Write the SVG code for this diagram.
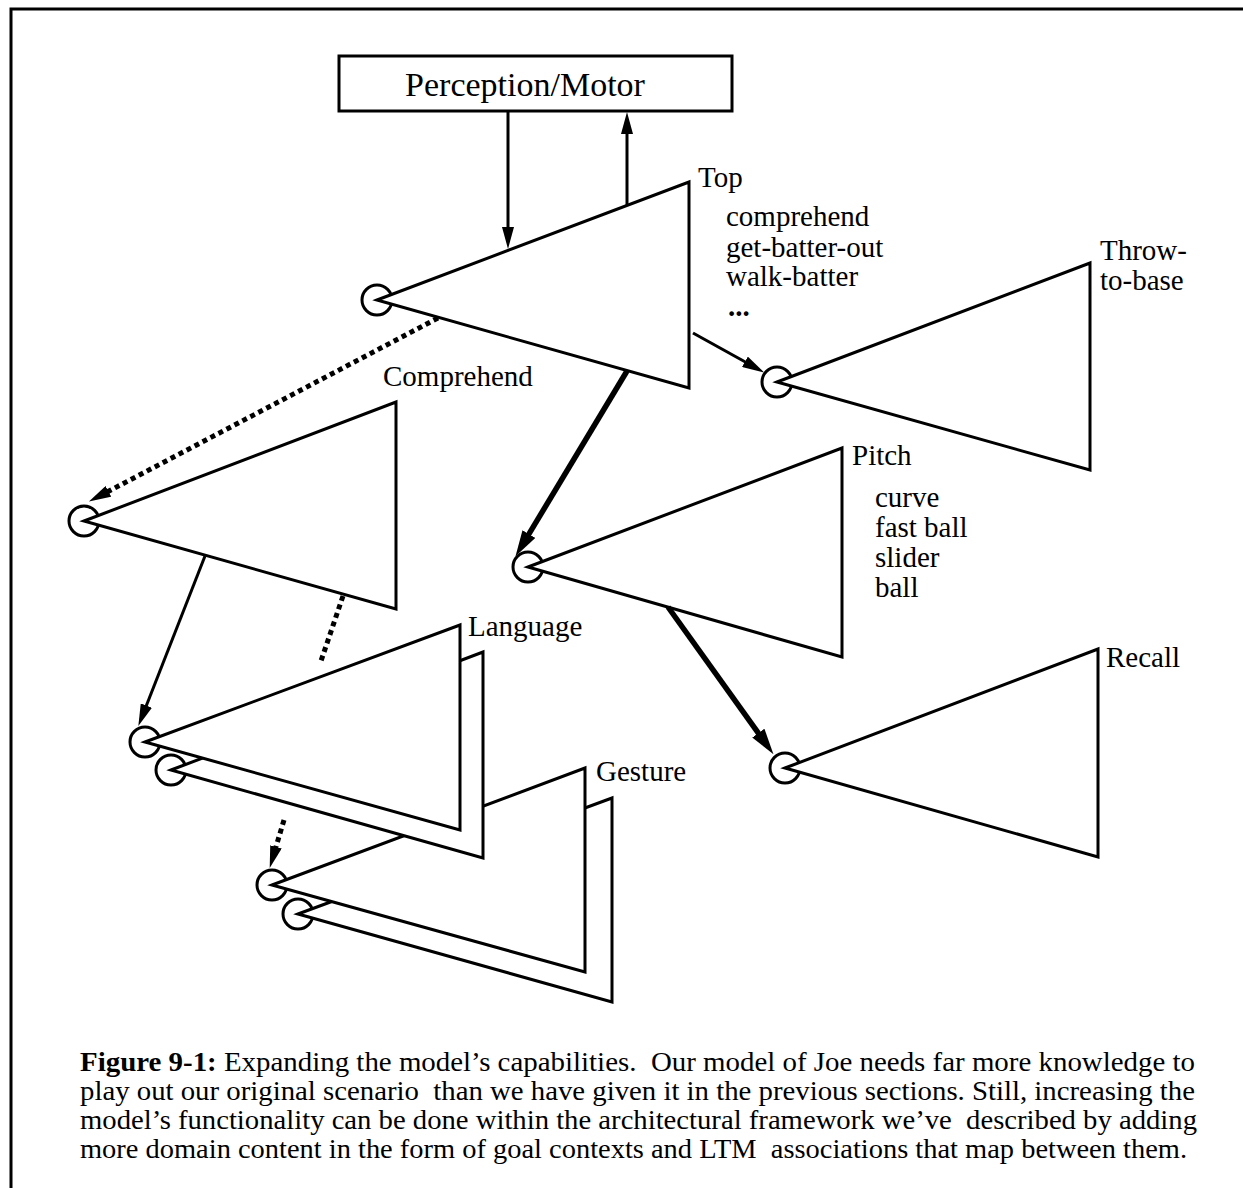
<svg xmlns="http://www.w3.org/2000/svg" width="1243" height="1188" viewBox="0 0 1243 1188">
  <style>
    .frame { fill: none; stroke: #000; stroke-width: 3; }
    .ctx { fill: #fff; stroke: #000; stroke-width: 3; stroke-linejoin: miter; }
    .port { fill: #fff; stroke: #000; stroke-width: 3; }
    .box { fill: #fff; stroke: #000; stroke-width: 3; }
    .thin { fill: none; stroke: #000; stroke-width: 3; }
    .thick { fill: none; stroke: #000; stroke-width: 5.5; }
    .dots { fill: none; stroke: #000; stroke-width: 5; stroke-dasharray: 5 4; }
    text { font-family: "Liberation Serif", "Times New Roman", serif; fill: #000; }
    .lbl { font-size: 29px; }
    .title { font-size: 34px; }
    .cap { font-size: 28px; white-space: pre; }
  </style>
  <defs>
    <marker id="ah" markerUnits="userSpaceOnUse" viewBox="0 0 22 12" markerWidth="22" markerHeight="12" refX="1" refY="6" orient="auto">
      <path d="M0,0 L22,6 L0,12 z" fill="#000"/>
    </marker>
    <marker id="ahBig" markerUnits="userSpaceOnUse" viewBox="0 0 26 15" markerWidth="26" markerHeight="15" refX="1" refY="7.5" orient="auto">
      <path d="M0,0 L26,7.5 L0,15 z" fill="#000"/>
    </marker>
  </defs>

  <!-- page frame -->
  <path class="frame" d="M11,1188 L11,9 L1243,9"/>

  <g id="perception-motor">
    <rect class="box" x="339" y="56" width="393" height="55"/>
    <text class="title" x="525" y="96" text-anchor="middle">Perception/Motor</text>
  </g>

  <g id="gesture">
    <circle class="port" cx="298" cy="914" r="15"/>
    <polygon class="ctx" points="298,914 612,798 612,1002"/>
    <circle class="port" cx="272" cy="885" r="15"/>
    <polygon class="ctx" points="272,885 585,768 585,972"/>
    <text class="lbl" x="596" y="781">Gesture</text>
  </g>

  <g id="language">
    <circle class="port" cx="171" cy="770" r="15"/>
    <polygon class="ctx" points="171,770 483,652 483,858"/>
    <circle class="port" cx="145" cy="742" r="15"/>
    <polygon class="ctx" points="145,742 460,625 460,830"/>
    <text class="lbl" x="468" y="636">Language</text>
  </g>

  <g id="comprehend">
    <circle class="port" cx="84" cy="521" r="15"/>
    <polygon class="ctx" points="84,521 396,402 396,609"/>
    <text class="lbl" x="383" y="386">Comprehend</text>
  </g>

  <g id="top">
    <circle class="port" cx="377" cy="300" r="15"/>
    <polygon class="ctx" points="377,300 689,182 689,388"/>
    <text class="lbl" x="698" y="187">Top</text>
    <text class="lbl" x="726" y="226">comprehend</text>
    <text class="lbl" x="726" y="257">get-batter-out</text>
    <text class="lbl" x="726" y="286">walk-batter</text>
    <text class="lbl" x="728" y="316" font-weight="bold" font-size="18">...</text>
  </g>

  <g id="throw-to-base">
    <circle class="port" cx="777" cy="382" r="15"/>
    <polygon class="ctx" points="777,382 1090,263 1090,470"/>
    <text class="lbl" x="1100" y="260">Throw-</text>
    <text class="lbl" x="1100" y="290">to-base</text>
  </g>

  <g id="pitch">
    <circle class="port" cx="528" cy="567" r="15"/>
    <polygon class="ctx" points="528,567 842,448 842,657"/>
    <text class="lbl" x="852" y="465">Pitch</text>
    <text class="lbl" x="875" y="507">curve</text>
    <text class="lbl" x="875" y="537">fast ball</text>
    <text class="lbl" x="875" y="567">slider</text>
    <text class="lbl" x="875" y="597">ball</text>
  </g>

  <g id="recall">
    <circle class="port" cx="785" cy="768" r="15"/>
    <polygon class="ctx" points="785,768 1098,649 1098,857"/>
    <text class="lbl" x="1106" y="667">Recall</text>
  </g>

  <g id="connectors">
    <!-- perception/motor to and from Top -->
    <path class="thin" d="M508,111 L508,228" marker-end="url(#ah)"/>
    <path class="thin" d="M627,205 L627,133" marker-end="url(#ah)"/>
    <!-- Top to Throw-to-base -->
    <path class="thin" d="M693,333 L745.8,362.3" marker-end="url(#ah)"/>
    <!-- Top to Pitch, Pitch to Recall -->
    <path class="thick" d="M627,371 L528.4,534.9" marker-end="url(#ahBig)"/>
    <path class="thick" d="M668,607 L758.9,733.9" marker-end="url(#ahBig)"/>
    <!-- Comprehend to Language -->
    <path class="thin" d="M205,556 L146,706.5" marker-end="url(#ah)"/>
    <!-- dotted links -->
    <path class="dots" d="M438,318 L107.5,491.8" marker-end="url(#ah)"/>
    <path class="dots" d="M343,596 L321,661"/>
    <path class="dots" d="M284,820 L275.7,847.8" marker-end="url(#ah)"/>
  </g>

  <g id="caption">
    <text class="cap" x="80" y="1071" textLength="1115" lengthAdjust="spacingAndGlyphs"><tspan font-weight="bold">Figure 9-1:</tspan> Expanding the model’s capabilities.  Our model of Joe needs far more knowledge to</text>
    <text class="cap" x="80" y="1100" textLength="1115" lengthAdjust="spacingAndGlyphs">play out our original scenario  than we have given it in the previous sections. Still, increasing the</text>
    <text class="cap" x="80" y="1129" textLength="1117" lengthAdjust="spacingAndGlyphs">model’s functionality can be done within the architectural framework we’ve  described by adding</text>
    <text class="cap" x="80" y="1158" textLength="1107" lengthAdjust="spacingAndGlyphs">more domain content in the form of goal contexts and LTM  associations that map between them.</text>
  </g>
</svg>
